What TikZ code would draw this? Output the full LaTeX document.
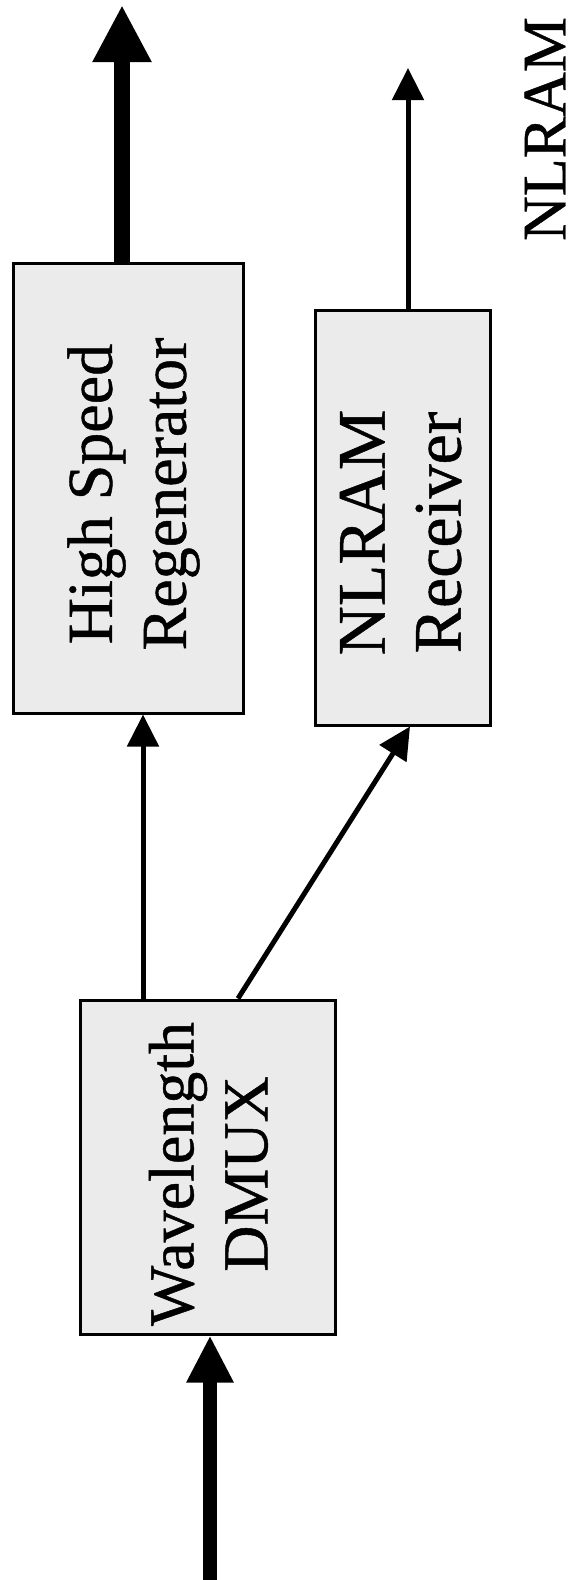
\documentclass[tikz,border=0pt]{standalone}
\usepackage{fontspec}
\setmainfont{Liberation Serif}[UprightFeatures={FakeBold=0.7}]
\usetikzlibrary{arrows.meta}
\begin{document}
\begin{tikzpicture}[x=1pt,y=-1pt]
            \tikzstyle{block}=[draw=black, line width=3pt, fill=black!8, inner sep=0pt, font=\fontsize{64pt}{74pt}\selectfont]
            \tikzstyle{fat}=[line width=16pt, -{Triangle[length=57pt,width=55pt]}]
            \tikzstyle{slim}=[line width=5pt, -{Triangle[length=32pt,width=31pt]}]
            \useasboundingbox (0,0) rectangle (579,1580);
            \node [block, minimum width=255pt, minimum height=334pt] (dmux) at (207.5,1167) {\hspace*{16pt}\rotatebox{90}{\begin{tabular}{@{}c@{}}Wavelength\\DMUX\end{tabular}\hspace*{14pt}}};
            \node [block, minimum width=230pt, minimum height=450pt] (hs) at (128,488) {\hspace*{12pt}\rotatebox{90}{\begin{tabular}{@{}c@{}}High Speed\\Regenerator\end{tabular}\hspace*{12pt}}};
            \node [block, minimum width=175pt, minimum height=415pt, font=\fontsize{68pt}{76pt}\selectfont] (rx) at (402.5,517.5) {\hspace*{10pt}\rotatebox{90}{\begin{tabular}{@{}c@{}}NLRAM\\Receiver\end{tabular}\hspace*{30pt}}};
            \node [rotate=90, inner sep=0pt, font=\fontsize{62pt}{72pt}\selectfont] (lbl) at (545,129) {NLRAM};
            \coordinate (in) at (210,1580);
            \coordinate (fork) at ([xshift=-64.5pt]dmux.north);
            \coordinate (branch) at ([xshift=30.5pt]dmux.north);
            \coordinate (hsout) at (122,5);
            \coordinate (rxout) at (408,68);
            \draw [fat, line width=14pt, -{Triangle[length=47pt,width=44pt]}] (in) -- (in |- dmux.south);
            \draw [slim] (fork) -- (fork |- hs.south);
            \draw [slim] (branch) -- ([xshift=7.5pt]rx.south);
            \draw [fat] (hsout |- hs.north) -- (hsout);
            \draw [slim] (rxout |- rx.north) -- (rxout);
\end{tikzpicture}
\end{document}
